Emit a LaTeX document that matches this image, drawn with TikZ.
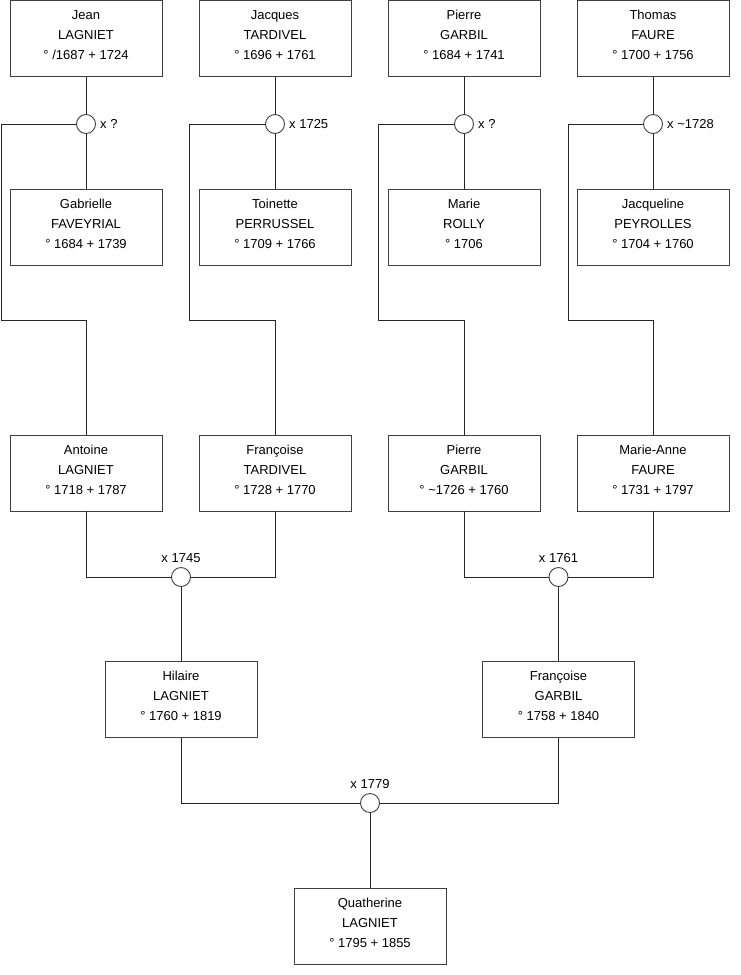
\documentclass[tikz,border=0pt]{standalone}
\usepackage{fontspec}
\setmainfont{Liberation Sans}
\newcommand{\lowstrut}{\rule[-7pt]{0pt}{7pt}}
\begin{document}
\begin{tikzpicture}[x=1pt,y=-1pt,
  pbox/.style={draw=black!75,line width=0.9pt,minimum width=152pt,minimum height=76pt,inner sep=0pt,align=center,font=\fontsize{13}{20}\selectfont},
  mring/.style={circle,draw=black!75,line width=0.9pt,fill=white,minimum size=19pt,inner sep=0pt},
  lbl/.style={font=\fontsize{13}{15}\selectfont,inner sep=0pt},
  link/.style={draw=black!85,line width=0.9pt}]
\useasboundingbox (0,0) rectangle (740,975);
% row 1
\node[pbox] (jean) at (86,38.5) {Jean\\LAGNIET\\° /1687 + 1724\lowstrut};
\node[pbox] (jacques) at (275,38.5) {Jacques\\TARDIVEL\\° 1696 + 1761\lowstrut};
\node[pbox] (pierreA) at (464,38.5) {Pierre\\GARBIL\\° 1684 + 1741\lowstrut};
\node[pbox] (thomas) at (653,38.5) {Thomas\\FAURE\\° 1700 + 1756\lowstrut};
% row 2
\node[pbox] (gabrielle) at (86,227.5) {Gabrielle\\FAVEYRIAL\\° 1684 + 1739\lowstrut};
\node[pbox] (toinette) at (275,227.5) {Toinette\\PERRUSSEL\\° 1709 + 1766\lowstrut};
\node[pbox] (marie) at (464,227.5) {Marie\\ROLLY\\° 1706\lowstrut};
\node[pbox] (jacqueline) at (653,227.5) {Jacqueline\\PEYROLLES\\° 1704 + 1760\lowstrut};
% row 3
\node[pbox] (antoine) at (86,473) {Antoine\\LAGNIET\\° 1718 + 1787\lowstrut};
\node[pbox] (francoiseT) at (275,473) {Françoise\\TARDIVEL\\° 1728 + 1770\lowstrut};
\node[pbox] (pierreB) at (464,473) {Pierre\\GARBIL\\° \textasciitilde1726 + 1760\lowstrut};
\node[pbox] (marieanne) at (653,473) {Marie-Anne\\FAURE\\° 1731 + 1797\lowstrut};
% row 4
\node[pbox] (hilaire) at (181,699.5) {Hilaire\\LAGNIET\\° 1760 + 1819\lowstrut};
\node[pbox] (francoiseG) at (558.5,699.5) {Françoise\\GARBIL\\° 1758 + 1840\lowstrut};
% row 5
\node[pbox] (quatherine) at (370,926) {Quatherine\\LAGNIET\\° 1795 + 1855\lowstrut};
% marriage rings
\node[mring] (m1) at (86,124) {};
\node[mring] (m2) at (275,124) {};
\node[mring] (m3) at (464,124) {};
\node[mring] (m4) at (653,124) {};
\node[mring] (m5) at (181,577) {};
\node[mring] (m6) at (558.5,577) {};
\node[mring] (m7) at (370,803) {};
% labels
\node[lbl,anchor=west] (l1) at (100,124) {x ?};
\node[lbl,anchor=west] (l2) at (289,124) {x 1725};
\node[lbl,anchor=west] (l3) at (478,124) {x ?};
\node[lbl,anchor=west] (l4) at (667,124) {x \textasciitilde1728};
\node[lbl] (l5) at (181,558) {x 1745};
\node[lbl] (l6) at (558.5,558) {x 1761};
\node[lbl] (l7) at (370,784) {x 1779};
% connectors, upper couples
\draw[link] (jean.south) -- (m1.north);
\draw[link] (m1.south) -- (gabrielle.north);
\draw[link] (jacques.south) -- (m2.north);
\draw[link] (m2.south) -- (toinette.north);
\draw[link] (pierreA.south) -- (m3.north);
\draw[link] (m3.south) -- (marie.north);
\draw[link] (thomas.south) -- (m4.north);
\draw[link] (m4.south) -- (jacqueline.north);
% descendants of upper couples
\draw[link] (m1.west) -- ++(-74.5,0) -- ++(0,196) -| (antoine.north);
\draw[link] (m2.west) -- ++(-75.5,0) -- ++(0,196) -| (francoiseT.north);
\draw[link] (m3.west) -- ++(-75.5,0) -- ++(0,196) -| (pierreB.north);
\draw[link] (m4.west) -- ++(-74.5,0) -- ++(0,196) -| (marieanne.north);
% middle couples
\draw[link] (antoine.south) |- (m5.west);
\draw[link] (francoiseT.south) |- (m5.east);
\draw[link] (m5.south) -- (hilaire.north);
\draw[link] (pierreB.south) |- (m6.west);
\draw[link] (marieanne.south) |- (m6.east);
\draw[link] (m6.south) -- (francoiseG.north);
% bottom couple
\draw[link] (hilaire.south) |- (m7.west);
\draw[link] (francoiseG.south) |- (m7.east);
\draw[link] (m7.south) -- (quatherine.north);
\end{tikzpicture}
\end{document}
